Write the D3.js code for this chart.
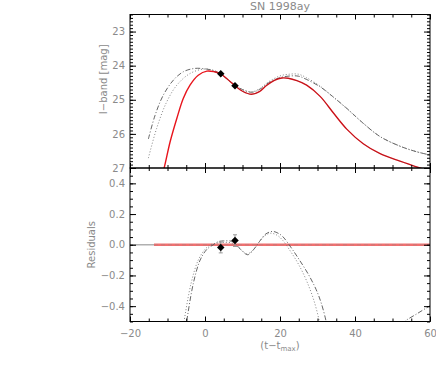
<!DOCTYPE html>
<html>
<head>
<meta charset="utf-8">
<script src="https://cdn.jsdelivr.net/npm/d3@7"></script>
<style>
  body { margin: 0; background: #fff; }
  text { font-family: "DejaVu Sans", sans-serif; fill: #8a8a8a; }
  .axis text { font-size: 10px; fill: #8a8a8a; }
  .axis path.domain { display: none; }
  .axis line { stroke: #000; stroke-width: 1; }
</style>
</head>
<body>
<svg id="chart" width="436" height="370"></svg>
<script>
/*
 * Data
 */

// Photometry points: day, I mag, residual, residual error
var OBS_DAY = [4.2, 8.0];
var OBS_MAG = [24.24, 24.59];
var OBS_RES = [-0.018, 0.027];
var OBS_RES_ERR = [0.035, 0.038];

// Best fit template (red): [day, mag]
var FIT_CURVE = [
  [-11.6, 27.25], [-10.9, 27.0], [-9.3, 26.23], [-7.5, 25.54], [-5.8, 24.96],
  [-4.0, 24.57], [-1.8, 24.28], [0.5, 24.16], [2.5, 24.18], [4.2, 24.24],
  [6.0, 24.40], [8.0, 24.59], [10.0, 24.75], [12.4, 24.84], [14.5, 24.76],
  [16.4, 24.58], [18.5, 24.43], [20.5, 24.36], [22.2, 24.37], [24.5, 24.44],
  [27.1, 24.57], [30.7, 24.90], [34.2, 25.38], [37.8, 25.86], [42.2, 26.29],
  [46.7, 26.58], [52.0, 26.80], [57.3, 27.0], [59.0, 27.06]
];

// Alternative template (dash-dot): [day, mag]
var ALT1_CURVE = [
  [-15.1, 26.15], [-13.3, 25.45], [-11.1, 24.86], [-8.4, 24.42], [-5.8, 24.18],
  [-2.7, 24.08], [0.4, 24.10], [2.5, 24.15], [4.2, 24.25], [6.0, 24.40],
  [8.0, 24.57], [10.0, 24.70], [12.4, 24.78], [14.5, 24.70], [17.0, 24.50],
  [20.0, 24.35], [23.0, 24.30], [25.0, 24.31], [27.0, 24.40], [30.7, 24.62],
  [34.0, 24.90], [37.8, 25.25], [42.0, 25.67], [46.7, 26.08], [52.0, 26.36],
  [56.0, 26.51], [60.0, 26.62]
];

// Alternative template (dotted): [day, mag]
var ALT2_CURVE = [
  [-15.1, 26.71], [-12.9, 25.84], [-10.2, 25.06], [-7.5, 24.57], [-4.0, 24.23],
  [-0.4, 24.10], [2.0, 24.13], [4.2, 24.24], [6.0, 24.40], [8.0, 24.58],
  [10.0, 24.70], [12.4, 24.77], [14.5, 24.68], [17.0, 24.47], [20.0, 24.30],
  [22.5, 24.25], [24.9, 24.25], [27.0, 24.35], [30.7, 24.60], [34.0, 24.90],
  [37.8, 25.26], [42.0, 25.67], [46.7, 26.08], [52.0, 26.36], [56.0, 26.51],
  [60.0, 26.62]
];

// Residual of the best fit (red line), days covered
var FIT_RES_DAYS = [-13.6, 60];

// Residuals of the alternatives: [day, residual]
var ALT1_RES = [
  [-5.3, -0.56], [-4.9, -0.5], [-3.1, -0.25], [-1.3, -0.1], [0.5, -0.03],
  [2.2, 0.0], [3.5, 0.02], [5.0, 0.025], [7.4, 0.02], [9.5, -0.03],
  [11.4, -0.065], [13.0, -0.03], [14.5, 0.02], [16.2, 0.07], [18.0, 0.087],
  [19.5, 0.075], [20.7, 0.054], [23.0, -0.02], [25.2, -0.1], [27.5, -0.19],
  [29.6, -0.29], [31.0, -0.38], [32.3, -0.5], [32.7, -0.56]
];
var ALT1_RES_TAIL = [
  [52.5, -0.52], [53.2, -0.5], [56.5, -0.45], [59.8, -0.4], [60.5, -0.39]
];
var ALT2_RES = [
  [-6.0, -0.56], [-5.6, -0.5], [-3.7, -0.25], [-1.8, -0.1], [0.0, -0.03],
  [1.5, 0.0], [3.0, 0.01], [5.0, 0.015], [7.4, 0.01], [9.5, -0.03],
  [11.2, -0.06], [13.0, -0.03], [14.5, 0.02], [16.0, 0.06], [17.5, 0.075],
  [19.0, 0.065], [20.5, 0.035], [23.0, -0.05], [25.0, -0.13], [27.0, -0.23],
  [29.0, -0.36], [30.5, -0.5], [30.9, -0.56]
];

// Axis ticks
var X_MAJOR = [-20, 0, 20, 40, 60];
var X_MINOR = d3.range(-20, 60.1, 5);
var MAG_MAJOR = [23, 24, 25, 26, 27];
var MAG_MINOR = d3.range(22.5, 27.01, 0.1);
var RES_MAJOR = [-0.4, -0.2, 0.0, 0.2, 0.4];
var RES_MINOR = d3.range(-0.5, 0.501, 0.05);

// Text
var TITLE = "SN 1998ay";
var MAG_LABEL = "I\u2212band  [mag]";
var RES_LABEL = "Residuals";

/*
 * Layout
 */
var LEFT = 130;
var PLOT_W = 300;
var TOP = 14.5;
var PANEL_H = 153.5;

var X_SCALE = d3.scaleLinear().domain([-20, 60]).range([0, PLOT_W]);
var MAG_SCALE = d3.scaleLinear().domain([22.5, 27]).range([0, PANEL_H]);
var RES_SCALE = d3.scaleLinear().domain([-0.5, 0.5]).range([PANEL_H, 0]);

// diamond marker: a square turned by 45 degrees
var DIAMOND = d3.symbol(d3.symbolSquare, 28);

var svg = d3.select("#chart");

function add_frame(g, ys, y_major, y_minor, y_fmt, x_labels) {
  var h = PANEL_H;
  // y-axis, left and right (ticks point inwards)
  g.append("g").attr("class", "axis")
    .call(d3.axisLeft(ys).tickValues(y_minor).tickSize(-3).tickFormat(""));
  g.append("g").attr("class", "axis")
    .call(d3.axisLeft(ys).tickValues(y_major).tickSize(-6).tickPadding(5).tickFormat(y_fmt));
  g.append("g").attr("class", "axis")
    .attr("transform", "translate(" + PLOT_W + ",0)")
    .call(d3.axisRight(ys).tickValues(y_minor).tickSize(-3).tickFormat(""));
  g.append("g").attr("class", "axis")
    .attr("transform", "translate(" + PLOT_W + ",0)")
    .call(d3.axisRight(ys).tickValues(y_major).tickSize(-6).tickFormat(""));

  // x-axis, top and bottom
  g.append("g").attr("class", "axis")
    .call(d3.axisTop(X_SCALE).tickValues(X_MINOR).tickSize(-3).tickFormat(""));
  g.append("g").attr("class", "axis")
    .call(d3.axisTop(X_SCALE).tickValues(X_MAJOR).tickSize(-5).tickFormat(""));
  g.append("g").attr("class", "axis")
    .attr("transform", "translate(0," + h + ")")
    .call(d3.axisBottom(X_SCALE).tickValues(X_MINOR).tickSize(-3).tickFormat(""));
  g.append("g").attr("class", "axis")
    .attr("transform", "translate(0," + h + ")")
    .call(d3.axisBottom(X_SCALE).tickValues(X_MAJOR).tickSize(-5).tickPadding(8)
      .tickFormat(x_labels ? d3.format("d") : ""));

  g.append("rect")
    .attr("width", PLOT_W)
    .attr("height", h)
    .attr("fill", "none")
    .attr("stroke", "#000")
    .attr("stroke-width", 1);
}

function add_clip(id) {
  svg.append("defs").append("clipPath").attr("id", id)
    .append("rect").attr("width", PLOT_W).attr("height", PANEL_H);
}

/*
 * Top panel: light curve
 */
add_clip("clip_top");
var top_g = svg.append("g").attr("transform", "translate(" + LEFT + "," + TOP + ")");
var top_plot = top_g.append("g").attr("clip-path", "url(#clip_top)");

var mag_line = d3.line()
  .x(function (d) { return X_SCALE(d[0]); })
  .y(function (d) { return MAG_SCALE(d[1]); })
  .curve(d3.curveCatmullRom.alpha(0.5));

top_plot.append("path").datum(ALT1_CURVE)
  .attr("d", mag_line).attr("fill", "none")
  .attr("stroke", "#555").attr("stroke-width", 0.9)
  .attr("stroke-dasharray", "5,2,1,2");
top_plot.append("path").datum(ALT2_CURVE)
  .attr("d", mag_line).attr("fill", "none")
  .attr("stroke", "#777").attr("stroke-width", 0.9)
  .attr("stroke-dasharray", "1,2");
top_plot.append("path").datum(FIT_CURVE)
  .attr("d", mag_line).attr("fill", "none")
  .attr("stroke", "#e8141c").attr("stroke-width", 1.4);
// thin dark trace along the fit after maximum
top_plot.append("path").datum(FIT_CURVE.filter(function (d) { return d[0] > 2; }))
  .attr("d", mag_line).attr("fill", "none")
  .attr("stroke", "#222").attr("stroke-opacity", 0.4).attr("stroke-width", 0.6);

top_plot.selectAll(".obs")
  .data(OBS_DAY)
  .enter().append("path")
  .attr("class", "obs")
  .attr("d", DIAMOND)
  .attr("transform", function (d, i) {
    return "translate(" + X_SCALE(d) + "," + MAG_SCALE(OBS_MAG[i]) + ") rotate(45)";
  })
  .attr("fill", "#000");

add_frame(top_g, MAG_SCALE, MAG_MAJOR, MAG_MINOR, d3.format("d"), false);

/*
 * Bottom panel: residuals
 */
add_clip("clip_bot");
var bot_g = svg.append("g").attr("transform", "translate(" + LEFT + "," + (TOP + PANEL_H) + ")");
var bot_plot = bot_g.append("g").attr("clip-path", "url(#clip_bot)");

var res_line = d3.line()
  .x(function (d) { return X_SCALE(d[0]); })
  .y(function (d) { return RES_SCALE(d[1]); })
  .curve(d3.curveCatmullRom.alpha(0.5));

// zero line
bot_plot.append("line")
  .attr("x1", X_SCALE(-20)).attr("x2", X_SCALE(60))
  .attr("y1", RES_SCALE(0)).attr("y2", RES_SCALE(0))
  .attr("stroke", "#b0b0b0").attr("stroke-width", 1.5);
bot_plot.append("line")
  .attr("x1", X_SCALE(FIT_RES_DAYS[0])).attr("x2", X_SCALE(FIT_RES_DAYS[1]))
  .attr("y1", RES_SCALE(0)).attr("y2", RES_SCALE(0))
  .attr("stroke", "#f07070").attr("stroke-width", 2.5);
bot_plot.append("line")
  .attr("x1", X_SCALE(FIT_RES_DAYS[0])).attr("x2", X_SCALE(FIT_RES_DAYS[1]))
  .attr("y1", RES_SCALE(0)).attr("y2", RES_SCALE(0))
  .attr("stroke", "#888").attr("stroke-opacity", 0.6).attr("stroke-width", 0.6)
  .attr("stroke-dasharray", "4,3");

bot_plot.append("path").datum(ALT1_RES)
  .attr("d", res_line).attr("fill", "none")
  .attr("stroke", "#555").attr("stroke-width", 0.9)
  .attr("stroke-dasharray", "5,2,1,2");
bot_plot.append("path").datum(ALT1_RES_TAIL)
  .attr("d", res_line).attr("fill", "none")
  .attr("stroke", "#555").attr("stroke-width", 0.9)
  .attr("stroke-dasharray", "5,2,1,2");
bot_plot.append("path").datum(ALT2_RES)
  .attr("d", res_line).attr("fill", "none")
  .attr("stroke", "#777").attr("stroke-width", 0.9)
  .attr("stroke-dasharray", "1,2");

// error bars
var err = bot_plot.selectAll(".err")
  .data(OBS_DAY)
  .enter().append("g")
  .attr("class", "err");
err.append("line")
  .attr("x1", function (d) { return X_SCALE(d); })
  .attr("x2", function (d) { return X_SCALE(d); })
  .attr("y1", function (d, i) { return RES_SCALE(OBS_RES[i] + OBS_RES_ERR[i]); })
  .attr("y2", function (d, i) { return RES_SCALE(OBS_RES[i] - OBS_RES_ERR[i]); })
  .attr("stroke", "#999").attr("stroke-width", 1);
err.append("line")
  .attr("x1", function (d) { return X_SCALE(d) - 2; })
  .attr("x2", function (d) { return X_SCALE(d) + 2; })
  .attr("y1", function (d, i) { return RES_SCALE(OBS_RES[i] + OBS_RES_ERR[i]); })
  .attr("y2", function (d, i) { return RES_SCALE(OBS_RES[i] + OBS_RES_ERR[i]); })
  .attr("stroke", "#999").attr("stroke-width", 1);
err.append("line")
  .attr("x1", function (d) { return X_SCALE(d) - 2; })
  .attr("x2", function (d) { return X_SCALE(d) + 2; })
  .attr("y1", function (d, i) { return RES_SCALE(OBS_RES[i] - OBS_RES_ERR[i]); })
  .attr("y2", function (d, i) { return RES_SCALE(OBS_RES[i] - OBS_RES_ERR[i]); })
  .attr("stroke", "#999").attr("stroke-width", 1);
err.append("path")
  .attr("d", DIAMOND)
  .attr("transform", function (d, i) {
    return "translate(" + X_SCALE(d) + "," + RES_SCALE(OBS_RES[i]) + ") rotate(45)";
  })
  .attr("fill", "#000");

add_frame(bot_g, RES_SCALE, RES_MAJOR, RES_MINOR, d3.format(".1f"), true);

/*
 * Labels
 */
svg.append("text")
  .attr("x", LEFT + PLOT_W / 2).attr("y", 9.5)
  .attr("text-anchor", "middle")
  .style("font-size", "11px")
  .text(TITLE);

svg.append("text")
  .attr("transform", "translate(107," + (TOP + MAG_SCALE(24.4)) + ") rotate(-90)")
  .attr("text-anchor", "middle")
  .style("font-size", "10px")
  .text(MAG_LABEL);

svg.append("text")
  .attr("transform", "translate(95," + (TOP + PANEL_H + RES_SCALE(0)) + ") rotate(-90)")
  .attr("text-anchor", "middle")
  .style("font-size", "10px")
  .text(RES_LABEL);

var xl = svg.append("text")
  .attr("x", LEFT + PLOT_W / 2).attr("y", 349)
  .attr("text-anchor", "middle")
  .style("font-size", "10px");
xl.append("tspan").text("(t\u2212t");
xl.append("tspan").attr("dy", 2).style("font-size", "7px").text("max");
xl.append("tspan").attr("dy", -2).text(")");
</script>
</body>
</html>
